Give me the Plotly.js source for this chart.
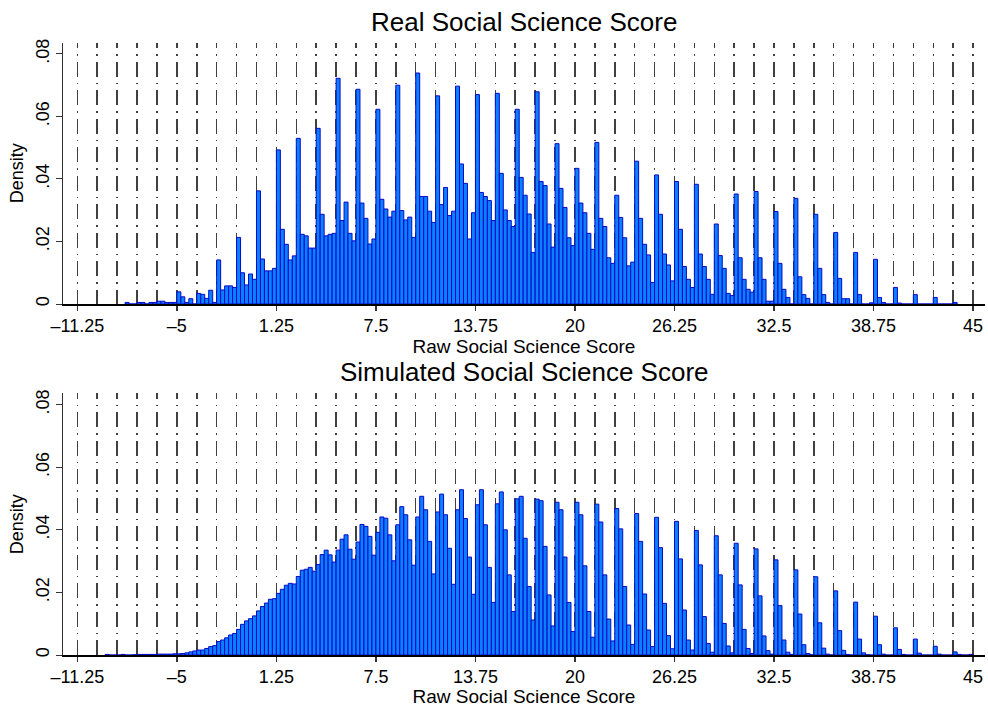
<!DOCTYPE html>
<html><head><meta charset="utf-8">
<script src="https://cdn.plot.ly/plotly-3.0.1.min.js"></script>
<style>html,body{margin:0;padding:0;background:#fff}#chart{width:988px;height:707px}</style>
</head><body><div id="chart"></div>
<script>
// ---- data (densities, bins of width 0.25) ----
const binWidth = 0.25;

const realFirstBin = -8.25;
const realDensity = [
  0.0005, 0, 0, 0.0005, 0.0005, 0, 0.0005, 0.0005, 0.0009, 0.0009,
  0.0005, 0.0005, 0.0005, 0.0039, 0.0023, 0.0005, 0.0017, 0, 0.0034, 0.0031,
  0.0018, 0.0044, 0.0005, 0.0141, 0.0045, 0.0058, 0.0058, 0.0053, 0.0213, 0.0100,
  0.0061, 0.0096, 0.0079, 0.0362, 0.0144, 0.0106, 0.0106, 0.0114, 0.0493, 0.0239,
  0.0191, 0.0141, 0.0154, 0.0530, 0.0223, 0.0218, 0.0179, 0.0179, 0.0562, 0.0287,
  0.0218, 0.0223, 0.0226, 0.0722, 0.0267, 0.0326, 0.0226, 0.0202, 0.0687, 0.0323,
  0.0274, 0.0192, 0.0208, 0.0623, 0.0335, 0.0304, 0.0278, 0.0297, 0.0700, 0.0299,
  0.0269, 0.0278, 0.0213, 0.0739, 0.0344, 0.0344, 0.0297, 0.0261, 0.0666, 0.0318,
  0.0373, 0.0283, 0.0297, 0.0697, 0.0448, 0.0386, 0.0208, 0.0292, 0.0670, 0.0357,
  0.0344, 0.0331, 0.0267, 0.0674, 0.0418, 0.0301, 0.0267, 0.0248, 0.0623, 0.0405,
  0.0348, 0.0288, 0.0165, 0.0679, 0.0392, 0.0379, 0.0256, 0.0182, 0.0513, 0.0370,
  0.0309, 0.0212, 0.0187, 0.0434, 0.0323, 0.0292, 0.0226, 0.0175, 0.0517, 0.0274,
  0.0248, 0.0148, 0.0130, 0.0348, 0.0277, 0.0212, 0.0122, 0.0134, 0.0457, 0.0274,
  0.0191, 0.0157, 0.0069, 0.0413, 0.0287, 0.0160, 0.0125, 0.0074, 0.0392, 0.0239,
  0.0120, 0.0079, 0.0053, 0.0383, 0.0160, 0.0120, 0.0079, 0.0031, 0.0256, 0.0155,
  0.0114, 0.0034, 0.0027, 0.0352, 0.0148, 0.0079, 0.0047, 0.0038, 0.0360, 0.0148,
  0.0079, 0.0009, 0.0009, 0.0296, 0.0130, 0.0047, 0.0021, 0, 0.0338, 0.0087,
  0.0030, 0.0018, 0, 0.0287, 0.0114, 0.0030, 0.0005, 0, 0.0229, 0.0082,
  0.0017, 0.0017, 0, 0.0165, 0.0030, 0, 0, 0.0004, 0.0143, 0.0021,
  0.0005, 0, 0, 0.0053, 0.0003, 0, 0, 0, 0.0030, 0,
  0, 0, 0, 0.0021, 0, 0, 0, 0, 0.0005
];

const simFirstBin = -9.5;
const simDensity = [
  0.0002, 0, 0, 0, 0.0002, 0, 0, 0.0001, 0.0002, 0.0002,
  0.0002, 0.0002, 0.0002, 0.0003, 0.0003, 0.0003, 0.0003, 0.0004, 0.0004, 0.0005,
  0.0007, 0.0010, 0.0013, 0.0016, 0.0016, 0.0021, 0.0027, 0.0030, 0.0043, 0.0048,
  0.0055, 0.0064, 0.0069, 0.0082, 0.0098, 0.0109, 0.0116, 0.0125, 0.0141, 0.0155,
  0.0166, 0.0178, 0.0180, 0.0197, 0.0210, 0.0223, 0.0229, 0.0227, 0.0251, 0.0271,
  0.0274, 0.0280, 0.0268, 0.0289, 0.0321, 0.0335, 0.0320, 0.0297, 0.0335, 0.0370,
  0.0384, 0.0338, 0.0306, 0.0361, 0.0417, 0.0411, 0.0379, 0.0319, 0.0392, 0.0441,
  0.0437, 0.0384, 0.0301, 0.0416, 0.0474, 0.0448, 0.0368, 0.0287, 0.0441, 0.0507,
  0.0464, 0.0363, 0.0259, 0.0457, 0.0514, 0.0448, 0.0341, 0.0226, 0.0464, 0.0528,
  0.0436, 0.0313, 0.0194, 0.0480, 0.0528, 0.0416, 0.0280, 0.0168, 0.0483, 0.0521,
  0.0400, 0.0256, 0.0139, 0.0499, 0.0507, 0.0373, 0.0219, 0.0112, 0.0498, 0.0493,
  0.0347, 0.0192, 0.0093, 0.0488, 0.0464, 0.0313, 0.0168, 0.0075, 0.0488, 0.0448,
  0.0285, 0.0139, 0.0057, 0.0482, 0.0425, 0.0256, 0.0115, 0.0045, 0.0468, 0.0403,
  0.0219, 0.0096, 0.0034, 0.0452, 0.0363, 0.0195, 0.0080, 0.0027, 0.0440, 0.0343,
  0.0165, 0.0062, 0.0020, 0.0427, 0.0307, 0.0144, 0.0048, 0.0016, 0.0398, 0.0288,
  0.0123, 0.0037, 0.0009, 0.0381, 0.0256, 0.0101, 0.0029, 0.0007, 0.0357, 0.0224,
  0.0082, 0.0021, 0.0005, 0.0339, 0.0189, 0.0061, 0.0014, 0.0003, 0.0304, 0.0158,
  0.0048, 0.0009, 0.0002, 0.0272, 0.0131, 0.0033, 0.0005, 0.0001, 0.0250, 0.0103,
  0.0022, 0.0003, 0, 0.0205, 0.0078, 0.0015, 0.0002, 0, 0.0169, 0.0051,
  0.0007, 0.0001, 0, 0.0124, 0.0033, 0.0003, 0, 0, 0.0087, 0.0018,
  0.0002, 0, 0, 0.0051, 0.0006, 0, 0, 0, 0.0028, 0.0003,
  0, 0, 0, 0.0010, 0.0002, 0, 0, 0.0002
];

const xTickVals = [-11.25, -5, 1.25, 7.5, 13.75, 20, 26.25, 32.5, 38.75, 45];
const xTickText = ['\u201311.25', '\u20135', '1.25', '7.5', '13.75', '20', '26.25', '32.5', '38.75', '45'];
const yTickVals = [0, 0.02, 0.04, 0.06, 0.08];
const yTickText = ['0', '.02', '.04', '.06', '.08'];
const panelTitles = ['Real Social Science Score', 'Simulated Social Science Score'];
const xTitleText = 'Raw Social Science Score';
const yTitleText = 'Density';

// ---- build ----
function binCenters(first, n) {
  return Array.from({length: n}, (_, i) => first + binWidth * (i + 0.5));
}
const FONT = 'Liberation Sans, Arial, Helvetica, sans-serif';
const barFill = '#0a80ff';
const barLine = '#0808c8';
const gridColor = '#404040';
const gridDash = '5.5px,6px,1.5px,6px,9.5px,0px';

const traces = [
  {type: 'bar', x: binCenters(realFirstBin, realDensity.length), y: realDensity, width: binWidth,
   xaxis: 'x', yaxis: 'y', marker: {color: barFill, line: {color: barLine, width: 1}}, hoverinfo: 'x+y'},
  {type: 'bar', x: binCenters(simFirstBin, simDensity.length), y: simDensity, width: binWidth,
   xaxis: 'x2', yaxis: 'y2', marker: {color: barFill, line: {color: barLine, width: 1}}, hoverinfo: 'x+y'}
];

function xAxis(anchor) {
  return {
    anchor: anchor, domain: [0, 1], range: [-12.15, 45.75],
    tickmode: 'array', tickvals: xTickVals, ticktext: xTickText,
    ticks: 'outside', ticklen: 5, tickwidth: 1.5, tickcolor: '#333',
    tickfont: {family: FONT, size: 18, color: '#000'},
    showline: true, linecolor: '#000', linewidth: 1.5, zeroline: false,
    showgrid: true, gridcolor: gridColor, gridwidth: 1.5, griddash: gridDash,
    minor: {tick0: -11.25, dtick: 1.25, showgrid: true, gridcolor: gridColor, gridwidth: 1.5, griddash: gridDash, ticks: ''},
    title: {text: xTitleText, font: {family: FONT, size: 19, color: '#000'}, standoff: 0},
    automargin: false, fixedrange: true
  };
}
function yAxis(anchor, domain) {
  return {
    anchor: anchor, domain: domain, range: [0, 0.0836],
    tickmode: 'array', tickvals: yTickVals, ticktext: yTickText, tickangle: -90,
    ticks: 'outside', ticklen: 6, tickwidth: 1, tickcolor: '#333',
    tickfont: {family: FONT, size: 18, color: '#000'},
    showline: true, linecolor: '#333', linewidth: 1, zeroline: false, showgrid: false,
    title: {text: yTitleText, font: {family: FONT, size: 18, color: '#000'}, standoff: 4},
    automargin: false, fixedrange: true
  };
}

const layout = {
  width: 988, height: 707,
  margin: {l: 63, r: 3, t: 0, b: 0},
  paper_bgcolor: '#fff', plot_bgcolor: '#fff',
  showlegend: false, bargap: 0,
  font: {family: FONT, color: '#000'},
  xaxis: xAxis('y'),
  yaxis: yAxis('x', [0.570, 0.9396]),
  xaxis2: xAxis('y2'),
  yaxis2: yAxis('x2', [0.0735, 0.4437]),
  annotations: [
    {text: panelTitles[0], xref: 'paper', yref: 'paper', x: 0.5, y: 0.969, xanchor: 'center', yanchor: 'middle',
     showarrow: false, font: {family: FONT, size: 26, color: '#000'}},
    {text: panelTitles[1], xref: 'paper', yref: 'paper', x: 0.5, y: 0.4738, xanchor: 'center', yanchor: 'middle',
     showarrow: false, font: {family: FONT, size: 26, color: '#000'}}
  ]
};

Plotly.newPlot('chart', traces, layout, {displayModeBar: false, staticPlot: true});
</script>
</body></html>
